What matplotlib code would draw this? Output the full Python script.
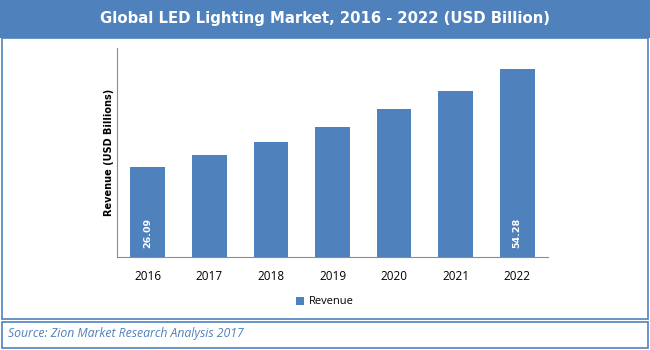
import matplotlib.pyplot as plt
from matplotlib.patches import Rectangle

years = ["2016", "2017", "2018", "2019", "2020", "2021", "2022"]
revenue = [26.09, 29.5, 33.2, 37.6, 42.8, 48.0, 54.28]
shown_labels = {0: "26.09", 6: "54.28"}

blue = "#4F81BD"
W, H = 650, 350

fig = plt.figure(figsize=(6.5, 3.5), dpi=100)
fig.patch.set_facecolor("white")


def fx(px):
    return px / W


def fy(py):
    return 1 - py / H


# title bar
fig.patches.append(Rectangle((0, fy(38)), 1, 38 / H, transform=fig.transFigure,
                             facecolor=blue, edgecolor="none", zorder=0))
fig.text(0.5, fy(19), "Global LED Lighting Market, 2016 - 2022 (USD Billion)",
         ha="center", va="center", color="white", fontsize=10.7,
         fontweight="bold", family="DejaVu Sans")

# frame around the chart and the source box
fig.patches.append(Rectangle((fx(1.5), fy(319)), fx(646), 281 / H,
                             transform=fig.transFigure, facecolor="none",
                             edgecolor=blue, lw=1.2))
fig.patches.append(Rectangle((fx(1.5), fy(348)), fx(646), 26 / H,
                             transform=fig.transFigure, facecolor="none",
                             edgecolor=blue, lw=1.2))
fig.text(fx(8), fy(334), "Source: Zion Market Research Analysis 2017",
         ha="left", va="center", color=blue, fontsize=8.8, style="italic",
         family="Open Sans")

ax = fig.add_axes([fx(117), 1 - 257 / H, fx(431), (257 - 48) / H])
x = list(range(len(years)))
bars = ax.bar(x, revenue, width=0.565, color=blue, label="Revenue")
ax.set_xlim(-0.5, 6.5)
ax.set_ylim(0, 60.4)
ax.set_xticks(x)
ax.set_xticklabels(years, family="Open Sans", fontsize=8.5)
ax.tick_params(axis="x", length=0, pad=9)
ax.set_yticks([])
for s in ["top", "right"]:
    ax.spines[s].set_visible(False)
for s in ["left", "bottom"]:
    ax.spines[s].set_color("#8C8C8C")
ax.set_ylabel("Revenue (USD Billions)", fontsize=7, fontweight="bold",
              labelpad=2)

for i, lab in shown_labels.items():
    ax.annotate(lab, (x[i], 0), xytext=(0, 6.5), textcoords="offset points",
                rotation=90, ha="center", va="bottom", color="white",
                fontsize=6.8, fontweight="bold", family="DejaVu Sans")

fig.legend(handles=[bars], labels=["Revenue"], loc="center",
           bbox_to_anchor=(0.5, fy(302)), frameon=False,
           handlelength=0.7, handleheight=0.7, handletextpad=0.4,
           prop={"family": "Open Sans", "size": 8})

fig.savefig("out.png", dpi=100)
